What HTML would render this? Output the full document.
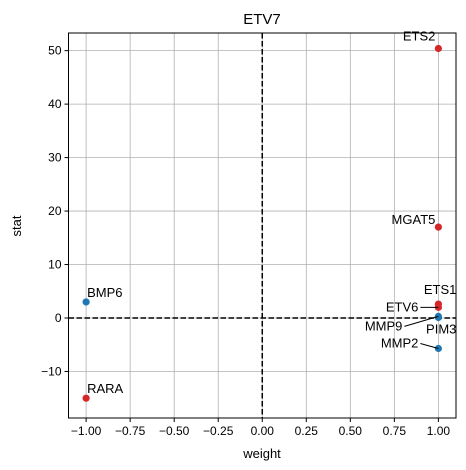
<!DOCTYPE html>
<html><head><meta charset="utf-8"><style>body{margin:0;background:#fff}svg{display:block;font-family:"Liberation Sans","DejaVu Sans",sans-serif}</style></head>
<body>
<svg id="chart" width="466" height="470" viewBox="0 0 466 470" xmlns="http://www.w3.org/2000/svg">
<text x="262" y="24" font-size="15" text-anchor="middle">ETV7</text>
<g id="grid"></g><g id="ticks"></g>
<line id="vz" stroke="#000" stroke-width="1.5" stroke-dasharray="5.5,2.5"/>
<line id="hz" stroke="#000" stroke-width="1.5" stroke-dasharray="5.5,2.5"/>
<g id="pts"></g><g id="labels"></g>
<rect x="68.5" y="33" width="387.5" height="385" fill="none" stroke="#000" stroke-width="1"/>
<text x="262" y="458" font-size="13" text-anchor="middle">weight</text>
<text transform="translate(21,226) rotate(-90)" font-size="13" text-anchor="middle">stat</text>
</svg>
<script>
const genes=["ETS2","MGAT5","ETS1","ETV6","MMP9","PIM3","MMP2","BMP6","RARA"];
const weights=[1,1,1,1,1,1,1,-1,-1];
const stats=[50.4,17,2.6,2.0,0.3,0.1,-5.7,3,-15];
const colors=["#d62728","#d62728","#d62728","#d62728","#1f77b4","#1f77b4","#1f77b4","#1f77b4","#d62728"];
const xTicks=[-1,-0.75,-0.5,-0.25,0,0.25,0.5,0.75,1];
const xTickLabels=["−1.00","−0.75","−0.50","−0.25","0.00","0.25","0.50","0.75","1.00"];
const yTicks=[-10,0,10,20,30,40,50];
const yTickLabels=["−10","0","10","20","30","40","50"];
const labelOff={ETS2:[-3,-8,"end",0],MGAT5:[-3,-3,"end",0],ETS1:[18,-10,"end",0],ETV6:[-20,4,"end",1],MMP9:[-36,14,"end",1],PIM3:[18,16,"end",0],MMP2:[-20,-1,"end",1],BMP6:[1,-5,"start",0],RARA:[1,-5,"start",0]};
const L=68.5,R=456,T=33,B=418,xmin=-1.1,xmax=1.1,ymin=-18.7,ymax=53.3;
const X=v=>L+(v-xmin)/(xmax-xmin)*(R-L);
const Y=v=>B-(v-ymin)/(ymax-ymin)*(B-T);
const NS="http://www.w3.org/2000/svg";
function mk(t,a,p){const e=document.createElementNS(NS,t);for(const k in a)e.setAttribute(k,a[k]);p.appendChild(e);return e;}
const g=document.getElementById("grid"),tk=document.getElementById("ticks");
xTicks.forEach((v,i)=>{
 const l=mk("line",{x1:X(v),x2:X(v),y1:T,y2:B,stroke:"#b0b0b0","stroke-width":0.8},g);
 
 
 mk("line",{x1:X(v),x2:X(v),y1:B,y2:B+4,stroke:"#000"},tk);
 const t=mk("text",{x:X(v),y:B+17,"font-size":12,"text-anchor":"middle"},tk);t.textContent=xTickLabels[i];
 
 
});
yTicks.forEach((v,i)=>{
 const l=mk("line",{x1:L,x2:R,y1:Y(v),y2:Y(v),stroke:"#b0b0b0","stroke-width":0.8},g);
 
 
 mk("line",{x1:L-4,x2:L,y1:Y(v),y2:Y(v),stroke:"#000"},tk);
 const t=mk("text",{x:L-7,y:Y(v)+4,"font-size":12,"text-anchor":"end"},tk);t.textContent=yTickLabels[i];
 
 
});
const vz=document.getElementById("vz");vz.setAttribute("x1",X(0));vz.setAttribute("x2",X(0));vz.setAttribute("y1",T);vz.setAttribute("y2",B);
const hz=document.getElementById("hz");hz.setAttribute("x1",L);hz.setAttribute("x2",R);hz.setAttribute("y1",Y(0));hz.setAttribute("y2",Y(0));
const pg=document.getElementById("pts"),lg=document.getElementById("labels");
genes.forEach((n,i)=>{
 const cx=X(weights[i]),cy=Y(stats[i]);
 const c=mk("circle",{cx:cx,cy:cy,r:3.6,fill:colors[i]},pg);
 
 
 const o=labelOff[n];const tx=cx+o[0],ty=cy+o[1];
 if(o[3]){const ln=mk("line",{x1:tx+2,y1:ty-4,x2:cx,y2:cy,stroke:"#000","stroke-width":1},lg);
  
  }
 const t=mk("text",{x:tx,y:ty,"font-size":13,"text-anchor":o[2]},lg);t.textContent=n;
 
 
});
</script>
</body></html>
